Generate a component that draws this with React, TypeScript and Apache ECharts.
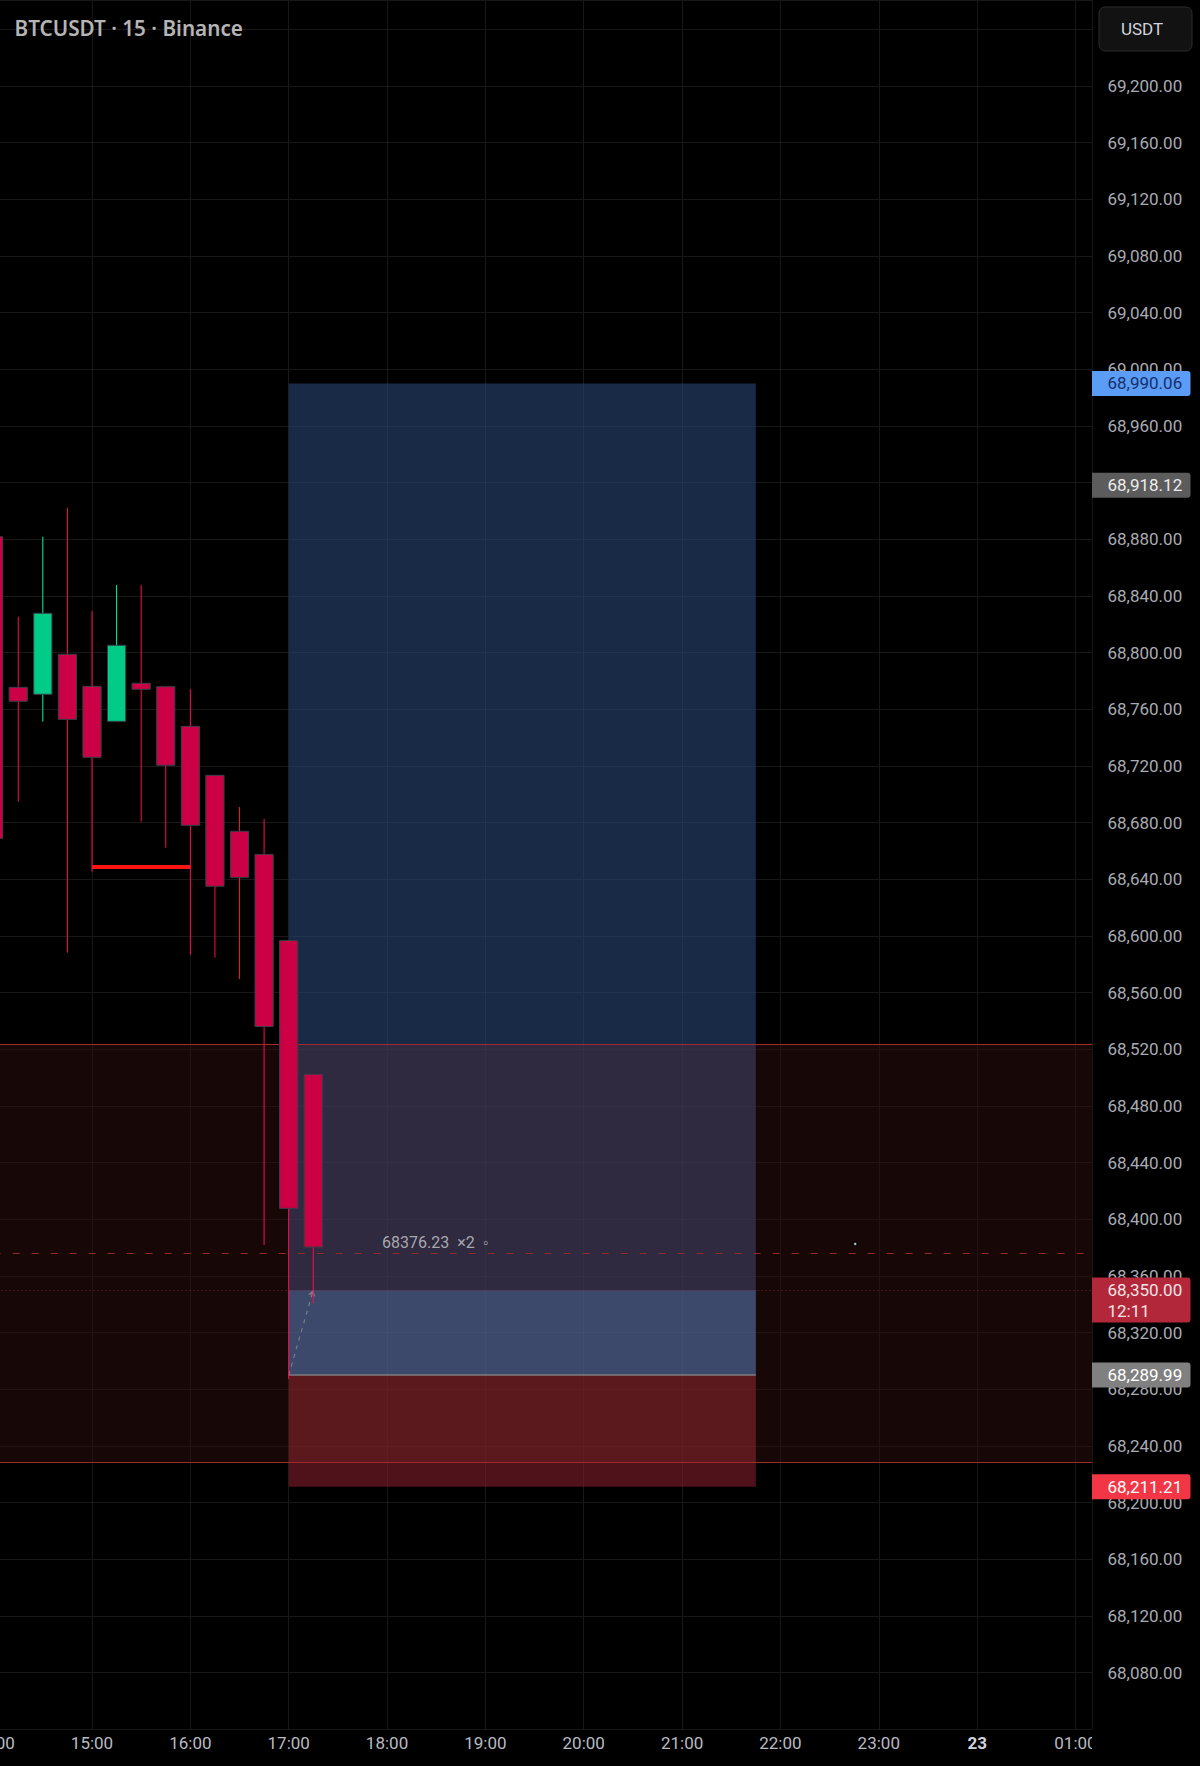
import React, { useEffect, useRef } from "react";
import * as echarts from "echarts";

// ---- candle data (15-minute bars, time in hours of day 22) ----
const candleTimes = [14, 14.25, 14.5, 14.75, 15, 15.25, 15.5, 15.75, 16, 16.25, 16.5, 16.75, 17, 17.25];
const opens = [68881.8, 68775.5, 68770.6, 68798.8, 68776.2, 68751.5, 68778.4, 68776.0, 68748.0, 68713.4, 68673.9, 68657.6, 68596.7, 68502.3];
const closes = [68668.9, 68765.7, 68827.8, 68752.9, 68726.1, 68805.2, 68774.1, 68720.5, 68678.1, 68635.1, 68641.4, 68536.1, 68407.7, 68380.4];
const lows = [68655.0, 68694.8, 68751.3, 68588.2, 68645.4, 68751.5, 68680.7, 68662.3, 68586.6, 68584.7, 68569.6, 68381.8, 68287.3, 68340.7];
const highs = [68895.0, 68825.4, 68881.8, 68902.3, 68829.4, 68847.7, 68847.7, 68776.0, 68774.3, 68713.4, 68691.0, 68682.6, 68596.7, 68502.3];
const BAR_HOURS = 0.25;

// ---- axis ticks ----
const hourTicks = [14, 15, 16, 17, 18, 19, 20, 21, 22, 23, 24, 25];
const hourTickLabels = ["14:00", "15:00", "16:00", "17:00", "18:00", "19:00", "20:00", "21:00", "22:00", "23:00", "23", "01:00"];
const dayTick = 24;
const PRICE_STEP = 40;
const X_MIN = 14;
const X_MAX = 25.168;
const Y_MIN = 68040;
const Y_MAX = 69260.71;
const Y_LABEL_MIN = 68080;
const Y_LABEL_MAX = 69200;

// ---- drawings ----
const levelFrom = 15;
const levelTo = 16;
const levelPrice = 68648.9;
const zoneLow = 68228.2;
const zoneHigh = 68523.4;
const positionFrom = 17;
const positionTo = 21.75;
const targetPrice = 68990.06;
const entryPrice = 68289.99;
const stopPrice = 68211.21;
const lastPrice = 68350.0;
const countdown = "12:11";
const orderPrice = 68376.23;
const orderQty = 2;
const orderLabelTime = 17.95;
const markerTime = 22.76;
const markerPrice = 68382.6;
const highPrice = 68918.12;

const fmtPrice = (v: number) =>
  v.toLocaleString("en-US", { minimumFractionDigits: 2, maximumFractionDigits: 2 });

export default function App() {
  const ref = useRef<HTMLDivElement>(null);

  useEffect(() => {
    if (!ref.current) return;
    const chart = echarts.init(ref.current, undefined, { renderer: "svg" });

    const candleData = candleTimes.map((t, i) => [t, opens[i], closes[i], lows[i], highs[i]]);

    // zones: [x1, x2, yLow, yHigh]
    const zoneData = [
      [X_MIN, X_MAX, zoneLow, zoneHigh],
      [positionFrom, positionTo, zoneHigh, targetPrice],
      [positionFrom, positionTo, lastPrice, zoneHigh],
      [positionFrom, positionTo, entryPrice, lastPrice],
      [positionFrom, positionTo, zoneLow, entryPrice],
      [positionFrom, positionTo, stopPrice, zoneLow],
    ];
    const zoneFills = [
      "rgba(46,14,14,0.5)",
      "rgba(40,70,117,0.6)",
      "rgba(63,67,102,0.6)",
      "rgba(86,119,175,0.6)",
      "rgba(136,39,45,0.6)",
      "rgba(132,28,43,0.6)",
    ];

    const option: any = {
      animation: false,
      backgroundColor: "#000000",
      title: {
        text: "BTCUSDT · 15 · Binance",
        left: 14.5,
        top: 17.5,
        padding: 0,
        textStyle: { color: "#b5b5b5", fontSize: 20.7, fontWeight: 600, fontFamily: "Noto Sans" },
      },
      grid: {
        left: -6.35,
        right: 108,
        top: 0,
        bottom: 36.74,
        containLabel: false,
        outerBoundsMode: "none",
      },
      xAxis: {
        type: "value",
        min: X_MIN,
        max: X_MAX,
        interval: 1,
        axisLine: { show: false },
        axisTick: { show: false },
        splitLine: { show: true, lineStyle: { color: "#181818", width: 1 } },
        axisLabel: {
          margin: 5,
          color: "#b8bbc3",
          fontSize: 17,
          fontFamily: "Roboto",
          formatter: (v: number) => {
            const idx = hourTicks.findIndex((h) => Math.abs(h - v) < 1e-6);
            if (idx < 0) return "";
            if (hourTicks[idx] === dayTick) return "{d|" + hourTickLabels[idx] + "}";
            return hourTickLabels[idx];
          },
          rich: { d: { fontWeight: "bold", color: "#d1d4dc", fontSize: 17, fontFamily: "Roboto" } },
        },
      },
      yAxis: {
        type: "value",
        position: "right",
        min: Y_MIN,
        max: Y_MAX,
        interval: PRICE_STEP,
        axisLine: { show: false },
        axisTick: { show: false },
        splitLine: { show: true, lineStyle: { color: "#181818", width: 1 } },
        axisLabel: {
          margin: 15.5,
          color: "#a8abb3",
          fontSize: 17,
          fontFamily: "Roboto",
          formatter: (v: number) => {
            if (Math.abs(v / PRICE_STEP - Math.round(v / PRICE_STEP)) > 1e-6) return "";
            if (v < Y_LABEL_MIN - 1e-6 || v > Y_LABEL_MAX + 1e-6) return "";
            return fmtPrice(v);
          },
        },
      },
      series: [
        {
          type: "custom",
          z: 1,
          clip: true,
          silent: true,
          encode: { x: [0, 1], y: [2, 3] },
          data: zoneData,
          renderItem: (params: any, api: any) => {
            const p1 = api.coord([api.value(0), api.value(3)]);
            const p2 = api.coord([api.value(1), api.value(2)]);
            return {
              type: "rect",
              shape: { x: p1[0], y: p1[1], width: p2[0] - p1[0], height: p2[1] - p1[1] },
              style: { fill: zoneFills[params.dataIndex] },
            };
          },
        },
        {
          type: "line",
          z: 3,
          data: [],
          markLine: {
            silent: true,
            symbol: ["none", "none"],
            label: { show: false },
            data: [
              { yAxis: zoneHigh, lineStyle: { color: "#a02a2c", width: 1, type: "solid" } },
              { yAxis: zoneLow, lineStyle: { color: "#a02a2c", width: 1, type: "solid" } },
              { yAxis: orderPrice, lineStyle: { color: "#912b2c", width: 1, type: [7, 12] } },
              { yAxis: lastPrice, lineStyle: { color: "#7a2328", width: 1, type: [1, 3] } },
              [
                { coord: [positionFrom, entryPrice], lineStyle: { color: "#7c7c7c", width: 1.5, type: "solid" } },
                { coord: [positionTo, entryPrice] },
              ],
              [
                { coord: [levelFrom, levelPrice], lineStyle: { color: "#ff1414", width: 4, type: "solid" } },
                { coord: [levelTo, levelPrice] },
              ],
              [
                { coord: [positionFrom, entryPrice], lineStyle: { color: "#7b7e86", width: 1.2, type: [4, 5] } },
                { coord: [positionFrom + BAR_HOURS, lastPrice], symbol: "arrow", symbolSize: 6 },
              ],
            ],
          },
        },
        {
          type: "custom",
          z: 5,
          clip: true,
          silent: true,
          encode: { x: 0, y: [1, 2, 3, 4] },
          data: candleData,
          renderItem: (params: any, api: any) => {
            const t = api.value(0);
            const o = api.value(1);
            const c = api.value(2);
            const l = api.value(3);
            const h = api.value(4);
            const pO = api.coord([t, o]);
            const pC = api.coord([t, c]);
            const pL = api.coord([t, l]);
            const pH = api.coord([t, h]);
            const w = api.size([BAR_HOURS, 0])[0] * 0.74;
            const up = c >= o;
            const top = Math.min(pO[1], pC[1]);
            const bot = Math.max(pO[1], pC[1]);
            return {
              type: "group",
              children: [
                {
                  type: "line",
                  shape: { x1: pH[0], y1: pH[1], x2: pL[0], y2: pL[1] },
                  style: { stroke: up ? "#00f59c" : "#ff0a52", lineWidth: 1 },
                },
                {
                  type: "rect",
                  shape: { x: pO[0] - w / 2, y: top, width: w, height: Math.max(bot - top, 1) },
                  style: { fill: up ? "#00cc88" : "#cc0044", stroke: "#3a3e49", lineWidth: 1 },
                },
              ],
            };
          },
        },
        {
          type: "scatter",
          z: 6,
          silent: true,
          symbolSize: 0,
          data: [[orderLabelTime, orderPrice]],
          label: {
            show: true,
            position: "right",
            distance: 0,
            offset: [0, -10],
            color: "#c9c9cc",
            fontSize: 16,
            fontFamily: "Roboto",
            formatter: () => orderPrice.toFixed(2) + "  ×" + orderQty + "  ◦",
          },
        },
        {
          type: "scatter",
          z: 6,
          silent: true,
          symbol: "emptyCircle",
          symbolSize: 4,
          itemStyle: { color: "#000", borderColor: "#6b1d22", borderWidth: 1 },
          data: [[markerTime, markerPrice]],
        },
      ],
    };

    chart.setOption(option);

    const yPix = (p: number) => chart.convertToPixel({ yAxisIndex: 0 }, p) as number;
    const xRight = chart.convertToPixel({ xAxisIndex: 0 }, X_MAX) as number;
    const yBottom = yPix(Y_MIN);

    const badges = [
      { price: targetPrice, text: fmtPrice(targetPrice), bg: "#5b9cf6", color: "#14306a" },
      { price: highPrice, text: fmtPrice(highPrice), bg: "#5c5c5c", color: "#ececec" },
      { price: lastPrice, text: fmtPrice(lastPrice) + "\n" + countdown, bg: "#b2283a", color: "#f6e4e6" },
      { price: entryPrice, text: fmtPrice(entryPrice), bg: "#808080", color: "#ffffff" },
      { price: stopPrice, text: fmtPrice(stopPrice), bg: "#f23645", color: "#ffffff" },
    ];

    const graphic: any[] = [
      {
        type: "rect",
        z: 50,
        silent: true,
        shape: { x: xRight, y: yBottom, width: 1200 - xRight, height: 1766 - yBottom },
        style: { fill: "#000000" },
      },
      {
        type: "rect",
        z: 100,
        silent: true,
        shape: { x: 1099, y: 7, width: 93, height: 44, r: 6 },
        style: { fill: "#121212", stroke: "#2c2c2c", lineWidth: 1 },
      },
      {
        type: "text",
        z: 101,
        silent: true,
        x: 1142,
        y: 29,
        style: {
          text: "USDT",
          fill: "#d1d4dc",
          font: "17px Roboto",
          textAlign: "center",
          textVerticalAlign: "middle",
        },
      },
    ];

    badges.forEach((b) => {
      const yc = yPix(b.price);
      const twoLines = b.text.indexOf("\n") >= 0;
      const h = twoLines ? 45 : 25;
      graphic.push({
        type: "rect",
        z: 100,
        silent: true,
        shape: { x: xRight, y: yc - 12.5, width: 98.5, height: h, r: [0, 3, 3, 0] },
        style: { fill: b.bg },
      });
      graphic.push({
        type: "text",
        z: 101,
        silent: true,
        x: xRight + 15.5,
        y: twoLines ? yc - 10.5 : yc,
        style: {
          text: b.text,
          fill: b.color,
          font: "17px Roboto",
          lineHeight: 21,
          textAlign: "left",
          textVerticalAlign: twoLines ? "top" : "middle",
        },
      });
    });

    chart.setOption({ graphic });

    return () => chart.dispose();
  }, []);

  return (
    <div
      ref={ref}
      style={{ position: "absolute", left: 0, top: 0, width: 1200, height: 1766, background: "#000" }}
    />
  );
}
